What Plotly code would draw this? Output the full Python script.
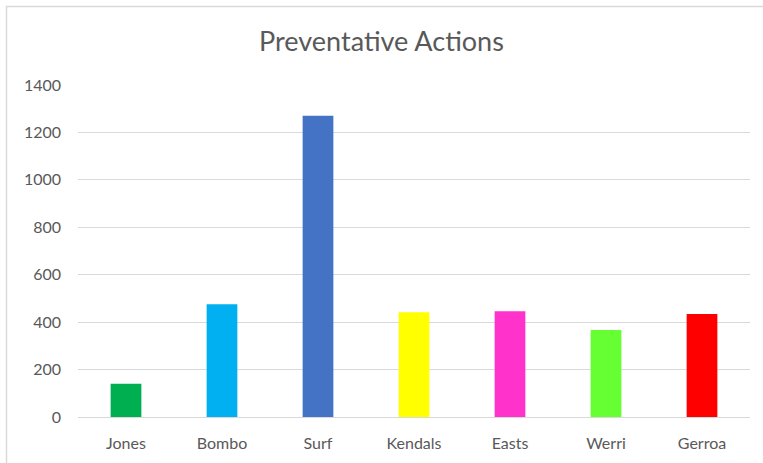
import plotly.graph_objects as go

categories = ["Jones", "Bombo", "Surf", "Kendals", "Easts", "Werri", "Gerroa"]
values = [140, 475, 1270, 442, 446, 367, 434]
bar_colors = ["#00B050", "#00B0F0", "#4472C4", "#FFFF00", "#FF33CC", "#66FF33", "#FF0000"]
y_ticks = [0, 200, 400, 600, 800, 1000, 1200, 1400]

W, H = 763, 463
L, R, T, B = 78, 13, 85, 46
pw, ph = W - L - R, H - T - B

def px_x(p):
    return (p - L) / pw

def px_y(p):
    return (H - B - p) / ph

fig = go.Figure(
    go.Bar(x=categories, y=values, marker=dict(color=bar_colors, line=dict(width=0)),
           hoverinfo="x+y")
)

fig.update_layout(
    width=W, height=H,
    margin=dict(l=L, r=R, t=T, b=B),
    paper_bgcolor="white", plot_bgcolor="white",
    font=dict(family="Lato, Open Sans, sans-serif", color="#595959", size=16),
    title=dict(text="Preventative Actions", x=0.5, xanchor="center", y=1 - 42 / H, yanchor="middle",
               font=dict(size=27, color="#595959")),
    bargap=0.68,
    showlegend=False,
    xaxis=dict(showgrid=False, showline=True, linecolor="#D9D9D9", linewidth=1,
               ticks="", tickfont=dict(size=16, color="#595959"), ticklabelstandoff=12),
    yaxis=dict(range=[0, 1400], tickvals=y_ticks, showgrid=True, gridcolor="#D9D9D9", gridwidth=1,
               zeroline=False, showline=False, ticks="", tickfont=dict(size=16, color="#595959"),
               ticklabelstandoff=16),
    shapes=[dict(type="path", xref="paper", yref="paper",
                 path=f"M {px_x(6.5)} {px_y(470)} L {px_x(6.5)} {px_y(6.5)} L {px_x(770)} {px_y(6.5)}",
                 line=dict(color="#D9D9D9", width=1.5))],
)

fig.write_html("out.html", config={"displayModeBar": False},
               post_script="document.body.style.margin='0';document.body.style.overflow='hidden';")
